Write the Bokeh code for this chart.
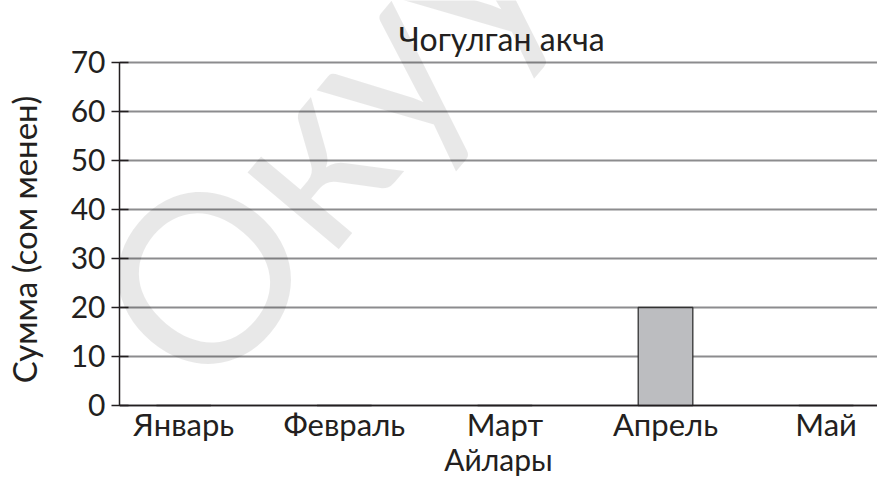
from bokeh.plotting import figure
from bokeh.models import Range1d, FixedTicker, Label, ColumnDataSource
from bokeh.embed import file_html
from bokeh.resources import INLINE

# Monthly savings
months = ["Январь", "Февраль", "Март", "Апрель", "Май"]
amounts = [0, 0, 0, 20, 0]
y_ticks = [0, 10, 20, 30, 40, 50, 60, 70]
title_text = "Чогулган акча"

FONT = "Lato"
INK = "#231f20"

xs = list(range(len(months)))
src = ColumnDataSource(data=dict(x=xs, top=amounts, month=months))

# The frame covers the full height: the x axis is pinned at 0 and the
# y axis stops at 70, leaving room for the title and faint lettering.
p = figure(
    width=877, height=478,
    output_backend="svg", toolbar_location=None,
    x_range=Range1d(-0.4, 4.32), y_range=Range1d(-14.9, 82.65),
    min_border_left=118, min_border_right=0,
    min_border_top=0, min_border_bottom=0,
)
p.outline_line_color = None
p.background_fill_color = "white"
p.border_fill_color = "white"

# Faint watermark
wm = Label(
    x=0.82, y=55.2, text="Окуу", angle=50, angle_units="deg",
    text_align="center", text_baseline="middle",
    text_font=FONT, text_font_size="235px",
    text_color="black", text_alpha=0.09,
)
p.add_layout(wm)

# Chart title
title = Label(
    x=1.98, y=74.9, text=title_text,
    text_align="center", text_baseline="alphabetic",
    text_font=FONT, text_font_size="32px", text_color=INK,
)
p.add_layout(title)

# Bars
p.vbar(x="x", top="top", width=0.34, bottom=0, source=src,
       fill_color="#bcbdc0", line_color="#333333", line_width=1.3)

# Grid
p.xgrid.grid_line_color = None
p.ygrid.ticker = FixedTicker(ticks=y_ticks)
p.ygrid.grid_line_color = "#8c8c8e"
p.ygrid.grid_line_width = 2

# Y axis
p.yaxis.ticker = FixedTicker(ticks=y_ticks)
p.yaxis.bounds = (0, 70)
p.yaxis.axis_label = "Сумма (сом менен)"
p.yaxis.axis_label_text_font = FONT
p.yaxis.axis_label_text_font_size = "33px"
p.yaxis.axis_label_text_font_style = "normal"
p.yaxis.axis_label_text_color = INK
p.yaxis.axis_label_standoff = 24
p.yaxis.major_label_text_font = FONT
p.yaxis.major_label_text_font_size = "30px"
p.yaxis.major_label_text_color = INK
p.yaxis.major_label_standoff = 6
p.yaxis.axis_line_color = INK
p.yaxis.axis_line_width = 1.5
p.yaxis.major_tick_line_color = INK
p.yaxis.major_tick_line_width = 1.5
p.yaxis.major_tick_in = 9
p.yaxis.major_tick_out = 8
p.yaxis.minor_tick_line_color = None

# X axis, pinned at zero
p.xaxis.fixed_location = 0
p.xaxis.ticker = FixedTicker(ticks=xs)
p.xaxis.major_label_overrides = {i: m for i, m in enumerate(months)}
p.xaxis.axis_label = "Айлары"
p.xaxis.axis_label_text_font = FONT
p.xaxis.axis_label_text_font_size = "30px"
p.xaxis.axis_label_text_font_style = "normal"
p.xaxis.axis_label_text_color = INK
p.xaxis.axis_label_standoff = -6
p.xaxis.major_label_text_font = FONT
p.xaxis.major_label_text_font_size = "31px"
p.xaxis.major_label_text_color = INK
p.xaxis.major_label_standoff = 0
p.xaxis.axis_line_color = INK
p.xaxis.axis_line_width = 1.5
p.xaxis.major_tick_line_color = None
p.xaxis.major_tick_in = 0
p.xaxis.major_tick_out = 0
p.xaxis.minor_tick_line_color = None

open("out.html", "w").write(file_html(p, INLINE))
